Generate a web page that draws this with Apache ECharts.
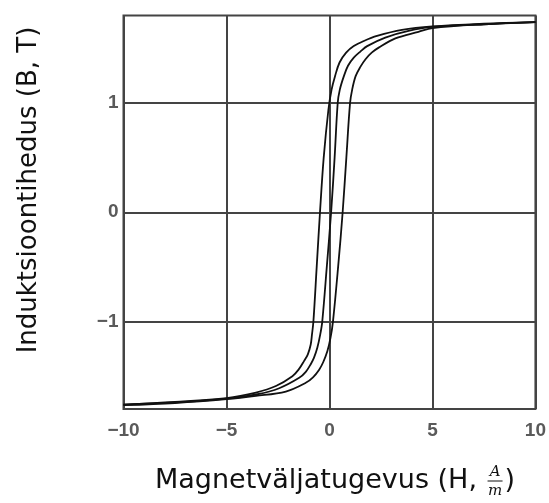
<!DOCTYPE html>
<html>
<head>
<meta charset="utf-8">
<script src="https://cdn.jsdelivr.net/npm/echarts@6/dist/echarts.min.js"></script>
<style>
html,body{margin:0;padding:0;background:#fff;}
#chart{width:549px;height:503px;}
</style>
</head>
<body>
<div id="chart"></div>
<script>
// Descending branch (upper-left curve)
var hDesc = [-10, -7.5, -5, -3.57, -2.6, -1.8, -1.5, -1.23, -1.05, -0.91, -0.85, -0.78, -0.62, -0.46, -0.28, -0.05, 0.1, 0.27, 0.49, 0.81, 1.18, 1.67, 2.31, 3.52, 5, 7.5, 10];
var bDesc = [-1.76, -1.735, -1.70, -1.65, -1.59, -1.50, -1.44, -1.36, -1.30, -1.21, -1.12, -1.0, -0.5, 0, 0.5, 0.94, 1.12, 1.245, 1.37, 1.46, 1.52, 1.567, 1.613, 1.668, 1.70, 1.725, 1.74];
// Middle curve
var hMid = [-10, -7.5, -5, -3.5, -2.44, -1.47, -1.15, -0.91, -0.75, -0.59, -0.45, -0.35, -0.13, 0.08, 0.25, 0.4, 0.5, 0.7, 0.9, 1.18, 1.5, 1.83, 2.71, 3.84, 5, 7.5, 10];
var bMid = [-1.76, -1.74, -1.705, -1.665, -1.61, -1.515, -1.46, -1.39, -1.33, -1.24, -1.12, -1.0, -0.5, 0, 0.5, 1.0, 1.12, 1.245, 1.34, 1.414, 1.47, 1.52, 1.598, 1.659, 1.695, 1.72, 1.74];
// Ascending branch (lower-right curve)
var hAsc = [-10, -7.5, -5, -3.57, -2.12, -1.15, -0.8, -0.5, -0.3, -0.1, 0.05, 0.17, 0.42, 0.64, 0.82, 1.0, 1.1, 1.27, 1.5, 1.75, 2.05, 2.39, 3.2, 4.32, 5, 7.5, 10];
var bAsc = [-1.765, -1.745, -1.71, -1.68, -1.64, -1.56, -1.51, -1.44, -1.37, -1.27, -1.15, -1.0, -0.5, 0, 0.5, 1.0, 1.12, 1.245, 1.33, 1.40, 1.46, 1.506, 1.59, 1.65, 1.685, 1.72, 1.74];

var xTicks = [-10, -5, 0, 5, 10];
var yTicks = [-1, 0, 1];
var yTitle = 'Induktsioontihedus (B, T)';
var xTitleMain = 'Magnetväljatugevus (H, ';
var xTitleNum = 'A';
var xTitleDen = 'm';
var xTitleEnd = ')';

function zip(a, b) { return a.map(function (v, i) { return [v, b[i]]; }); }
function fmt(v) { return String(v).replace('-', '\u2212'); }

var chart = echarts.init(document.getElementById('chart'));

var yTitleFont = "26px 'DejaVu Sans'";
var xTitleFont = "27px 'DejaVu Sans'";
var ctx = document.createElement('canvas').getContext('2d');
ctx.font = xTitleFont;
var w1 = ctx.measureText(xTitleMain).width;
var fracW = 15;
var startX = 155;
var titleY = 481;
var fracX = startX + w1 + 2 + fracW / 2;

var curveStyle = { color: '#111', width: 1.8 };
function curve(h, b) {
  return {
    type: 'line', data: zip(h, b), showSymbol: false, symbol: 'none',
    smooth: 0.35, lineStyle: curveStyle, silent: true, z: 5
  };
}

chart.setOption({
  animation: false,
  backgroundColor: '#fff',
  grid: {
    left: 123.5, right: 11.5, top: 15.5, bottom: 94,
    show: true, borderColor: '#444', borderWidth: 2, backgroundColor: 'transparent'
  },
  xAxis: {
    type: 'value', min: -10, max: 10, interval: 5,
    axisLine: { show: false }, axisTick: { show: false },
    axisLabel: {
      formatter: fmt, color: '#5a5a5a', fontSize: 19, fontWeight: 'bold',
      fontFamily: "'Liberation Sans', Arial", margin: 12
    },
    splitLine: { show: true, lineStyle: { color: '#444', width: 2 } }
  },
  yAxis: {
    type: 'value', min: -1.8, max: 1.8,
    axisLine: { show: false }, axisTick: { show: false },
    axisLabel: {
      customValues: yTicks,
      formatter: fmt, color: '#5a5a5a', fontSize: 19, fontWeight: 'bold',
      fontFamily: "'Liberation Sans', Arial", margin: 5
    },
    splitLine: { show: false }
  },
  series: [
    {
      type: 'line', data: [], silent: true,
      markLine: {
        silent: true, symbol: 'none', animation: false,
        label: { show: false },
        lineStyle: { color: '#444', width: 2, type: 'solid' },
        data: yTicks.map(function (v) { return { yAxis: v }; })
      }
    },
    curve(hDesc, bDesc),
    curve(hMid, bMid),
    curve(hAsc, bAsc)
  ],
  graphic: [
    {
      type: 'text', x: 29, y: 190, rotation: Math.PI / 2,
      style: { text: yTitle, font: yTitleFont, fill: '#111', align: 'center', verticalAlign: 'middle' }
    },
    {
      type: 'text', x: startX, y: titleY,
      style: { text: xTitleMain, font: xTitleFont, fill: '#111', align: 'left', verticalAlign: 'middle' }
    },
    {
      type: 'text', x: fracX, y: titleY - 9,
      style: { text: xTitleNum, font: "italic 15px 'DejaVu Serif'", fill: '#111', align: 'center', verticalAlign: 'middle' }
    },
    {
      type: 'line', shape: { x1: fracX - fracW / 2, y1: titleY, x2: fracX + fracW / 2, y2: titleY },
      style: { stroke: '#111', lineWidth: 1 }
    },
    {
      type: 'text', x: fracX, y: titleY + 10,
      style: { text: xTitleDen, font: "italic 15px 'DejaVu Serif'", fill: '#111', align: 'center', verticalAlign: 'middle' }
    },
    {
      type: 'text', x: fracX + fracW / 2 + 2, y: titleY,
      style: { text: xTitleEnd, font: xTitleFont, fill: '#111', align: 'left', verticalAlign: 'middle' }
    }
  ]
});
</script>
</body>
</html>
